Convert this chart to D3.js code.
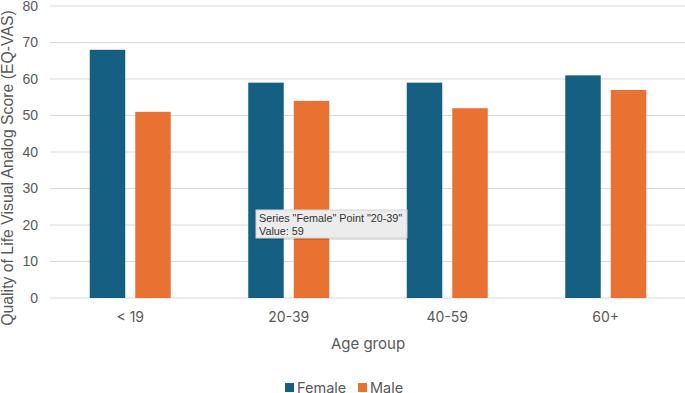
<!DOCTYPE html>
<html>
<head>
<meta charset="utf-8">
<script src="https://cdn.jsdelivr.net/npm/d3@7"></script>
<style>
  body { margin: 0; background: #fff; }
</style>
</head>
<body>
<div id="chart"></div>
<script>
var categories = ["< 19", "20-39", "40-59", "60+"];
var seriesNames = ["Female", "Male"];
var female = [68, 59, 59, 61];
var male = [51, 54, 52, 57];
var yTicks = [0, 10, 20, 30, 40, 50, 60, 70, 80];
var colors = ["#156082", "#E97132"];

var data = categories.map(function(c, i) {
    return { cat: c, values: [female[i], male[i]] };
});

var svg = d3.select("#chart")
            .append("svg")
            .attr("width", 685)
            .attr("height", 393);

// plot area edges (window.top is reserved, so no "top" here)
var plotLeft = 50, plotRight = 685, plotTop = 6, plotBottom = 298;

// scales
var x = d3.scaleBand()
            .domain(categories)
            .range([51, 685]);

var xs = d3.scaleBand()
            .domain(seriesNames)
            .range([x.bandwidth() / 2 - 40.5, x.bandwidth() / 2 + 40.5])
            .paddingInner(0.22);

var y = d3.scaleLinear()
            .domain([0, 80])
            .range([plotBottom, plotTop]);

// gridlines
svg.append("g")
    .selectAll("line")
    .data(yTicks)
    .enter()
    .append("line")
    .attr("x1", plotLeft)
    .attr("x2", plotRight)
    .attr("y1", function(d) { return y(d); })
    .attr("y2", function(d) { return y(d); })
    .attr("stroke", "#d9d9d9")
    .attr("stroke-width", 1);

// y axis labels
var yAxis = svg.append("g")
    .attr("transform", "translate(38,0)")
    .call(d3.axisLeft(y).tickValues(yTicks).tickSize(0).tickPadding(0));
yAxis.select(".domain").remove();
yAxis.selectAll("text")
    .style("font-family", "Liberation Sans, Arial, sans-serif")
    .style("font-size", "14px")
    .attr("fill", "#595959");

// x axis labels
var xAxis = svg.append("g")
    .attr("transform", "translate(0," + plotBottom + ")")
    .call(d3.axisBottom(x).tickSize(0).tickPadding(14));
xAxis.select(".domain").remove();
xAxis.selectAll("text")
    .style("font-family", "Inter, sans-serif")
    .style("font-size", "14px")
    .attr("fill", "#595959");

// bars
var groups = svg.selectAll(".grp")
    .data(data)
    .enter()
    .append("g")
    .attr("class", "grp")
    .attr("transform", function(d) { return "translate(" + x(d.cat) + ",0)"; });

groups.selectAll("rect")
    .data(function(d) { return d.values.map(function(v, i) { return { name: seriesNames[i], value: v, i: i }; }); })
    .enter()
    .append("rect")
    .attr("x", function(d) { return xs(d.name); })
    .attr("y", function(d) { return y(d.value); })
    .attr("width", xs.bandwidth())
    .attr("height", function(d) { return plotBottom - y(d.value); })
    .attr("fill", function(d) { return colors[d.i]; });

// axis titles
svg.append("text")
    .attr("x", 368)
    .attr("y", 349)
    .attr("text-anchor", "middle")
    .style("font-family", "Inter, sans-serif")
    .style("font-size", "15px")
    .attr("fill", "#595959")
    .text("Age group");

svg.append("text")
    .attr("transform", "translate(13," + 168 + ")rotate(-90)")
    .attr("text-anchor", "middle")
    .style("font-family", "Liberation Sans, Arial, sans-serif")
    .style("font-size", "15.8px")
    .attr("fill", "#595959")
    .text("Quality of Life Visual Analog Score (EQ-VAS)");

// legend
var legend = svg.append("g")
    .attr("transform", "translate(285,383)");
var legX = [0, 73];
seriesNames.forEach(function(s, i) {
    legend.append("rect")
        .attr("x", legX[i])
        .attr("y", 0)
        .attr("width", 9)
        .attr("height", 9)
        .attr("fill", colors[i]);
    legend.append("text")
        .attr("x", legX[i] + 12)
        .attr("y", 9.5)
        .style("font-family", "Inter, sans-serif")
        .style("font-size", "14.5px")
        .attr("fill", "#595959")
        .text(s);
});

// tooltip box (as in the screenshot)
var tip = svg.append("g")
    .attr("transform", "translate(256,210)");
tip.append("rect")
    .attr("x", 1).attr("y", 2)
    .attr("width", 151).attr("height", 28)
    .attr("fill", "#000").attr("opacity", 0.12);
tip.append("rect")
    .attr("width", 151).attr("height", 28)
    .attr("fill", "#ececec")
    .attr("stroke", "#d4d4d4");
tip.append("text")
    .attr("x", 3).attr("y", 12)
    .style("font-family", "Liberation Sans, Arial, sans-serif")
    .style("font-size", "10.8px")
    .attr("fill", "#333")
    .text('Series "Female" Point "20-39"');
tip.append("text")
    .attr("x", 3).attr("y", 25)
    .style("font-family", "Liberation Sans, Arial, sans-serif")
    .style("font-size", "10.8px")
    .attr("fill", "#333")
    .text("Value: " + female[1]);
</script>
</body>
</html>
